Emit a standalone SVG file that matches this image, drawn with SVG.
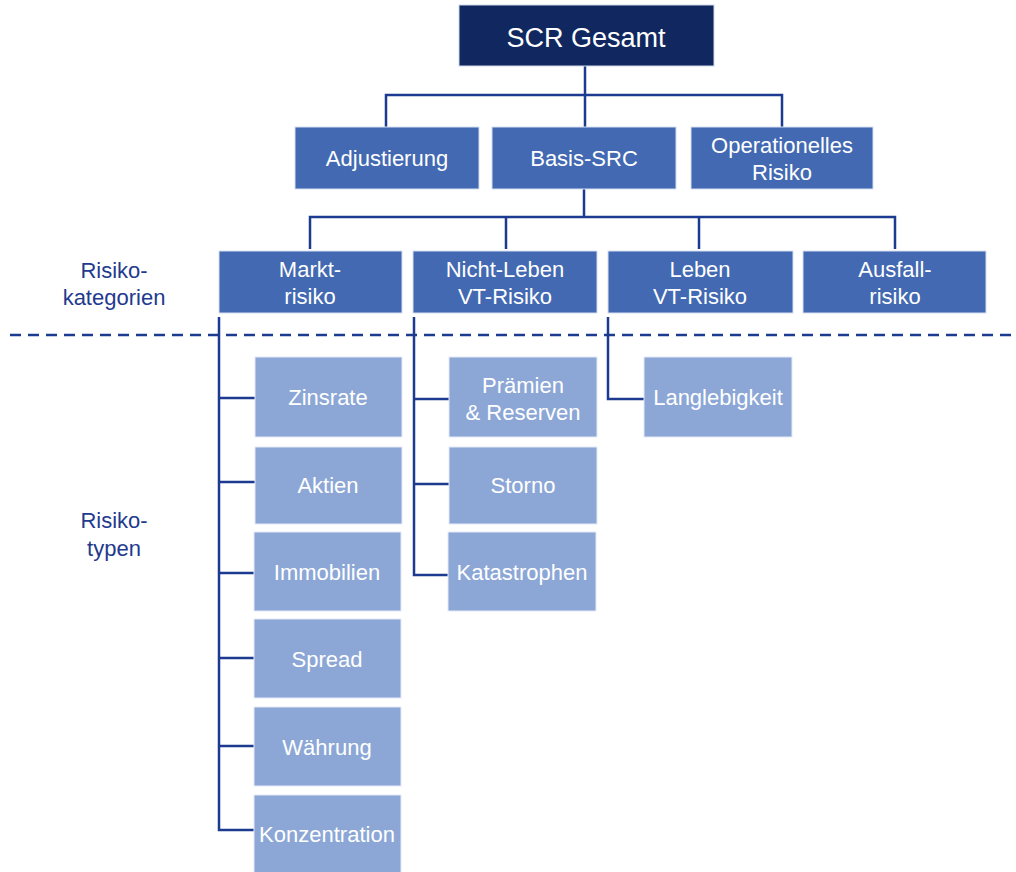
<svg xmlns="http://www.w3.org/2000/svg" width="1016" height="872" viewBox="0 0 1016 872">
<style>
text{font-family:"Liberation Sans",Arial,sans-serif;font-size:22px;fill:#ffffff;text-anchor:middle}
.top rect{fill:#10285f;stroke:#cfd8ea;stroke-width:1}
.mid rect{fill:#4269b2;stroke:#d5dff0;stroke-width:1}
.lt rect{fill:#8ca7d6;stroke:#e3eaf6;stroke-width:1}
.lbl text{fill:#1f3a8e}
.con path{fill:none;stroke:#1b3a90;stroke-width:2.5}
.dash{fill:none;stroke:#1b3a90;stroke-width:2.5;stroke-dasharray:11 7}
</style>
<rect width="1016" height="872" fill="#ffffff"/>
<g class="con" id="connectors">
<path d="M585 66V95M386 127V95H782V127M585 95V127"/>
<path d="M584 189V217M310 249V217H895V249M506 217V249M699 217V249"/>
<path d="M219 317V830H254M219 398H255M219 482H255M219 573H254M219 658H254M219 746H254"/>
<path d="M414 317V575H448M414 399H449M414 484H449"/>
<path d="M608 317V399H644"/>
</g>
<line class="dash" x1="10" y1="335" x2="1012" y2="335"/>
<g class="lbl" id="labels">
<text x="114" y="278">Risiko-</text>
<text x="114" y="305">kategorien</text>
<text x="114" y="528">Risiko-</text>
<text x="114" y="556">typen</text>
</g>
<g class="top" id="scr"><rect x="459" y="5" width="255" height="61"/><text x="586" y="47" style="font-size:27px">SCR Gesamt</text></g>
<g class="mid" id="adjustierung"><rect x="295" y="127" width="184" height="62"/><text x="387" y="166">Adjustierung</text></g>
<g class="mid" id="basis"><rect x="492" y="127" width="184" height="62"/><text x="584" y="166">Basis-SRC</text></g>
<g class="mid" id="operationelles"><rect x="691" y="127" width="182" height="62"/><text x="782" y="153">Operationelles</text><text x="782" y="180">Risiko</text></g>
<g class="mid" id="markt"><rect x="219" y="251" width="183" height="62"/><text x="310" y="277">Markt-</text><text x="310" y="304">risiko</text></g>
<g class="mid" id="nichtleben"><rect x="413" y="251" width="184" height="62"/><text x="505" y="277">Nicht-Leben</text><text x="505" y="304">VT-Risiko</text></g>
<g class="mid" id="leben"><rect x="608" y="251" width="185" height="62"/><text x="700" y="277">Leben</text><text x="700" y="304">VT-Risiko</text></g>
<g class="mid" id="ausfall"><rect x="803" y="251" width="183" height="62"/><text x="895" y="277">Ausfall-</text><text x="895" y="304">risiko</text></g>
<g class="lt" id="zinsrate"><rect x="255" y="357" width="147" height="80"/><text x="328" y="405">Zinsrate</text></g>
<g class="lt" id="aktien"><rect x="255" y="447" width="147" height="77"/><text x="328" y="493">Aktien</text></g>
<g class="lt" id="immobilien"><rect x="254" y="532" width="147" height="79"/><text x="327" y="580">Immobilien</text></g>
<g class="lt" id="spread"><rect x="254" y="619" width="147" height="79"/><text x="327" y="667">Spread</text></g>
<g class="lt" id="waehrung"><rect x="254" y="707" width="147" height="79"/><text x="327" y="755">Währung</text></g>
<g class="lt" id="konzentration"><rect x="254" y="795" width="147" height="79"/><text x="327" y="842">Konzentration</text></g>
<g class="lt" id="praemien"><rect x="449" y="357" width="148" height="80"/><text x="523" y="393">Prämien</text><text x="523" y="420">&amp; Reserven</text></g>
<g class="lt" id="storno"><rect x="449" y="447" width="148" height="77"/><text x="523" y="493">Storno</text></g>
<g class="lt" id="katastrophen"><rect x="448" y="532" width="148" height="79"/><text x="522" y="580">Katastrophen</text></g>
<g class="lt" id="langlebigkeit"><rect x="644" y="357" width="148" height="80"/><text x="718" y="405">Langlebigkeit</text></g>
</svg>
